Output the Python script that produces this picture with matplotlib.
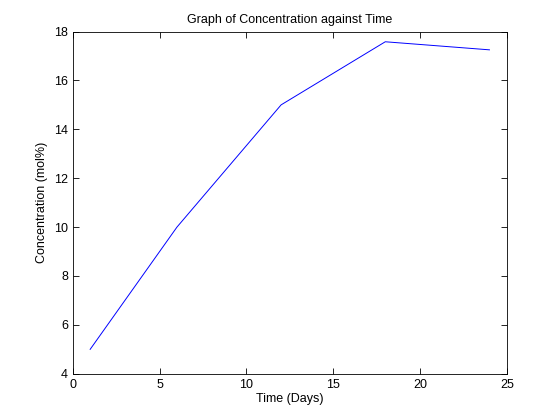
import matplotlib as mpl
mpl.use('Agg')
import matplotlib.pyplot as plt

# data
days = [1, 6, 12, 18, 24]
concentration = [5.0, 10.0, 15.0, 17.58, 17.25]

plt.rcParams['font.family'] = ['Liberation Sans', 'DejaVu Sans']

fig = plt.figure(figsize=(5.6, 4.2), dpi=100)
ax = fig.add_axes([0.13, 0.11, 0.775, 0.815])
ax.plot(days, concentration, '-', color='#0000ff', linewidth=0.7)

ax.set_xlim(0, 25)
ax.set_ylim(4, 18)
ax.set_xticks([0, 5, 10, 15, 20, 25])
ax.set_yticks([4, 6, 8, 10, 12, 14, 16, 18])
ax.tick_params(direction='in', top=True, right=True, labelsize=9, length=4, width=0.6)
for s in ax.spines.values():
    s.set_linewidth(0.6)

ax.set_xlabel('Time (Days)', fontsize=9, labelpad=2)
ax.set_ylabel('Concentration (mol%)', fontsize=9)
ax.set_title('Graph of Concentration against Time', fontsize=9, pad=6)

plt.savefig('out.png', dpi=100)
